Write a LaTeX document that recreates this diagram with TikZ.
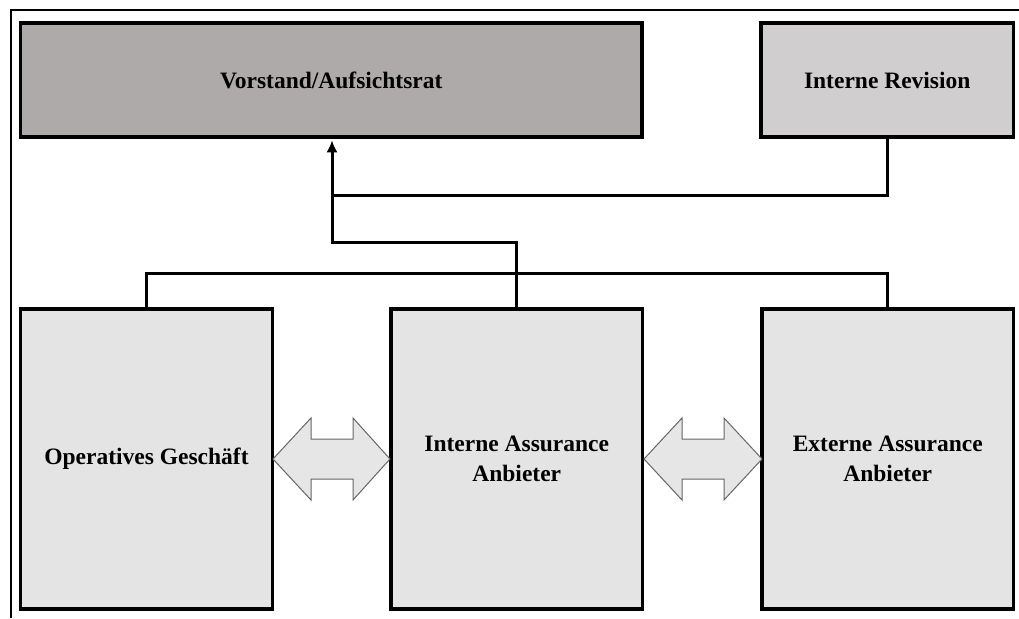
\documentclass[tikz,border=0pt]{standalone}
\usepackage{fontspec}
\setmainfont{Liberation Serif}
\usetikzlibrary{arrows.meta,calc}
\definecolor{vgray}{HTML}{AEAAAA}
\definecolor{rgray}{HTML}{D0CECE}
\definecolor{lgray}{HTML}{E4E4E4}
\definecolor{agray}{HTML}{E6E6E6}
\tikzset{
  box/.style={draw=black, line width=3.5pt, inner sep=0pt, align=center,
    font=\fontsize{23.5}{30}\selectfont\bfseries, text=black},
  conn/.style={draw=black, line width=3pt},
  frameline/.style={draw=black, line width=2pt},
  darrow/.style={draw=black!60, line width=1pt, fill=agray, line join=miter},
}
\begin{document}
\begin{tikzpicture}[x=1pt,y=1pt]
\useasboundingbox (0,0) rectangle (1019,-618);
% frame
\coordinate (fl) at (10.5,-618);
\coordinate (fc) at (10.5,-10.5);
\coordinate (fr) at (1019,-10.5);
\draw[frameline] (fl) -- (fc) -- (fr);
% boxes
\node[box, fill=vgray, minimum width=621.5pt, minimum height=114pt] (V) at (331.25,-80) {Vorstand/Aufsichtsrat};
\node[box, fill=rgray, minimum width=252.5pt, minimum height=114pt] (R) at (887.25,-80) {Interne Revision};
\node[box, fill=lgray, minimum width=252pt, minimum height=300pt] (O) at (146.5,-459) {Operatives Geschäft};
\node[box, fill=lgray, minimum width=251.5pt, minimum height=300pt] (I) at (516.75,-459) {Interne Assurance\\Anbieter};
\node[box, fill=lgray, minimum width=251.5pt, minimum height=300pt] (E) at (887.75,-459) {Externe Assurance\\Anbieter};
% connectors
\coordinate (j1) at (332,-195);
\coordinate (j2) at (516.75,-242);
\coordinate (busL) at (146.5,-273);
\coordinate (busR) at (887.75,-273);
\draw[conn] (R.south) |- (j1);
\draw[conn, -{Latex[length=12pt,width=11pt]}] (j1) -- ([yshift=-1.5pt]j1 |- V.south);
\draw[conn] (j1) |- (j2) -- (I.north);
\draw[conn] (O.north) -- (busL) -- (busR) -- (E.north);
% double arrows
\coordinate (a) at (273,-459);
\coordinate (b) at (390,-459);
\path[darrow] (a) -- ++(38,41) -- ++(0,-21) -- ($(b)+(-37,20)$) -- ++(0,21) -- (b)
  -- ++(-37,-41) -- ++(0,21) -- ($(a)+(38,-20)$) -- ++(0,-21) -- cycle;
\coordinate (c) at (644,-459);
\coordinate (d) at (762,-459);
\path[darrow] (c) -- ++(38,41) -- ++(0,-21) -- ($(d)+(-38,20)$) -- ++(0,21) -- (d)
  -- ++(-38,-41) -- ++(0,21) -- ($(c)+(38,-20)$) -- ++(0,-21) -- cycle;
\end{tikzpicture}
\end{document}
